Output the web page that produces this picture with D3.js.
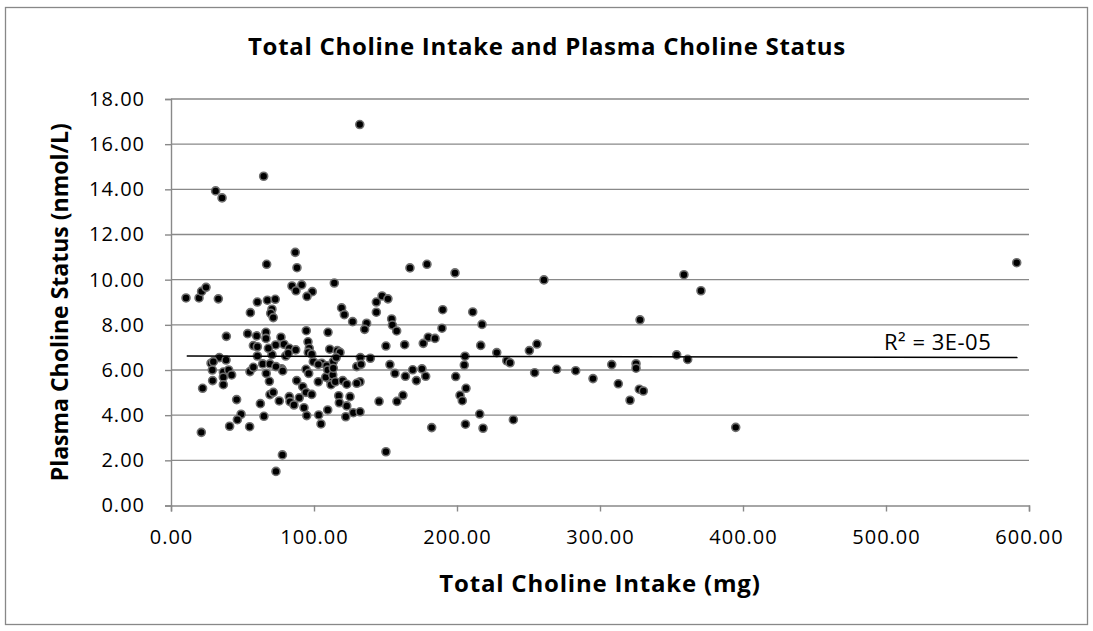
<!DOCTYPE html>
<html>
<head>
<meta charset="utf-8">
<script src="https://cdn.jsdelivr.net/npm/d3@7"></script>
<style>
  body { margin: 0; background: #fff; }
  text { font-family: "Open Sans", sans-serif; fill: #000; }
</style>
</head>
<body>
<svg id="chart" width="1093" height="631"></svg>
<script>
// intake (mg)
var intake = [
  132, 64.8, 31.2, 35.7,
  86.9, 66.9, 88.1, 114.2, 10.5, 19.6, 21.4, 24.5, 33.1,
  84.6, 87.4, 91.4, 98.8, 95.1, 60.4, 67.4, 72.9,
  55.5, 70.6, 69.7, 71.5, 119.3, 121.2,
  38.7, 53.6, 59.9, 66.4, 66.4, 76.9, 94.6, 95.8, 109.8,
  57.6, 60.4, 73.2, 79.0, 82.7, 87.2, 96.7, 111.0, 116.3, 118.2,
  60.4, 70.6, 80.2, 33.8, 38.5, 28.0, 99.5, 105.4, 64.1, 69.2,
  68.1, 29.6, 96.0, 98.4, 82.0, 103.0, 108.9, 113.5, 115.5, 77.4, 111.2,
  28.9, 36.6, 40.3, 42.4, 36.6, 29.1, 36.6, 22.1, 45.9, 49.0, 46.4, 41.0, 21.2, 55.0, 65.0, 62.5, 69.2, 71.5, 75.7, 77.9, 73.4,
  55.2, 57.6, 66.6, 68.8, 73.4, 78.1,
  82.7, 83.2, 86.0, 87.9, 89.7, 92.1, 94.4, 98.4, 93.0, 94.9, 103.3, 104.9, 109.6,
  94.4, 96.3, 103.0, 108.2, 109.6, 113.1, 111.9, 114.9, 120.1, 122.9, 117.3, 117.7, 122.9, 122.2,
  167.1, 179.0, 198.6, 127.0, 136.8, 135.4, 143.6, 147.6, 151.7, 143.6, 154.3, 154.8, 157.8, 190.0, 189.5, 211.0, 217.5,
  179.9, 184.6, 150.3, 163.4, 176.4, 216.6, 227.8, 234.8, 237.1, 250.6, 205.6, 205.1,
  132.4, 139.4, 129.9, 132.9, 153.1, 156.6, 163.9, 169.0, 171.6, 175.5, 178.1, 199.1,
  206.3, 202.1, 203.7, 215.9, 205.9, 218.2, 239.4, 182.3, 150.3, 145.5, 158.0, 162.2,
  132.2, 129.9, 125.2, 127.5, 132.2, 113.5,
  260.8, 358.7, 370.6, 328.0, 255.9, 254.3, 269.7, 283.0, 295.1, 308.2, 312.8, 321.0,
  325.2, 325.2, 327.5, 330.3, 353.6, 361.3, 394.9, 591.4
];
// plasma choline (nmol/L), same order
var plasma = [
  16.87, 14.58, 13.93, 13.62,
  11.21, 10.68, 10.53, 9.85, 9.19, 9.19, 9.48, 9.66, 9.15,
  9.72, 9.51, 9.77, 9.47, 9.26, 9.01, 9.09, 9.13,
  8.54, 8.69, 8.51, 8.32, 8.75, 8.45,
  7.49, 7.61, 7.51, 7.67, 7.40, 7.45, 7.74, 7.25, 7.67,
  7.08, 7.03, 7.11, 7.14, 6.96, 6.89, 6.96, 6.92, 6.86, 6.78,
  6.62, 6.68, 6.62, 6.55, 6.44, 6.30, 6.37, 6.30, 6.27, 6.27,
  6.96, 6.37, 6.78, 6.70, 6.74, 6.25, 6.19, 6.37, 6.55, 6.05, 5.56,
  6.00, 5.91, 6.00, 5.78, 5.68, 5.53, 5.35, 5.19, 4.69, 4.04, 3.80, 3.51, 3.24, 3.49, 3.95, 4.51, 4.91, 5.01, 4.63, 2.24, 1.51,
  5.93, 6.12, 5.85, 5.50, 6.15, 5.96,
  4.82, 4.60, 4.45, 5.53, 4.77, 5.26, 5.01, 4.92, 4.33, 3.98, 4.01, 3.61, 4.23,
  6.03, 5.85, 5.48, 5.68, 6.00, 5.78, 5.35, 5.48, 5.53, 5.37, 4.86, 4.55, 4.41, 3.93,
  10.52, 10.68, 10.30, 8.14, 8.07, 7.80, 9.01, 9.28, 9.15, 8.56, 8.26, 7.99, 7.73, 8.67, 7.85, 8.57, 8.02,
  7.45, 7.40, 7.06, 7.12, 7.18, 7.09, 6.77, 6.41, 6.32, 6.86, 6.61, 6.22,
  6.55, 6.52, 6.15, 6.25, 6.24, 5.85, 5.72, 6.01, 5.53, 6.05, 5.72, 5.71,
  5.19, 4.88, 4.64, 4.05, 3.60, 3.42, 3.80, 3.45, 2.38, 4.61, 4.61, 4.88,
  5.48, 5.41, 4.82, 4.11, 4.15, 6.08,
  9.99, 10.22, 9.51, 8.22, 7.15, 5.88, 6.03, 5.97, 5.62, 6.24, 5.39, 4.66,
  6.28, 6.08, 5.15, 5.07, 6.67, 6.47, 3.46, 10.75
];

// linear trendline ends, as drawn
var trendX = [11, 592];
var trendY = [6.62, 6.55];
var r2Label = "R² = 3E-05";

var xTicks = [0, 100, 200, 300, 400, 500, 600];
var yTicks = [0, 2, 4, 6, 8, 10, 12, 14, 16, 18];

var svg = d3.select("#chart");
var plotL = 171, plotR = 1029, plotT = 99, plotB = 505.5;

// chart frame
svg.append("rect")
  .attr("x", 5.5).attr("y", 7.5)
  .attr("width", 1082).attr("height", 617)
  .attr("fill", "#fff")
  .attr("stroke", "#888").attr("stroke-width", 1.3);

var x = d3.scaleLinear().domain([0, 600]).range([plotL, plotR]);
var y = d3.scaleLinear().domain([0, 18]).range([plotB, plotT]);

/* gridlines */
svg.append("g").selectAll("line")
  .data(yTicks.slice(1))
  .enter().append("line")
  .attr("x1", plotL).attr("x2", plotR)
  .attr("y1", function (d) { return y(d); })
  .attr("y2", function (d) { return y(d); })
  .attr("stroke", "#898989").attr("stroke-width", 1.4);

/* axes */
var xAxis = d3.axisBottom(x).tickValues(xTicks).tickSize(6).tickPadding(18)
  .tickFormat(function (d) { return d.toFixed(2); });
var yAxis = d3.axisLeft(y).tickValues(yTicks).tickSize(6).tickPadding(20)
  .tickFormat(function (d) { return d.toFixed(2); });

var gx = svg.append("g").attr("transform", "translate(0," + plotB + ")").call(xAxis);
var gy = svg.append("g").attr("transform", "translate(" + plotL + ",0)").call(yAxis);
[gx, gy].forEach(function (g) {
  g.select(".domain").attr("stroke", "#898989").attr("stroke-width", 1.4);
  g.selectAll(".tick line").attr("stroke", "#898989").attr("stroke-width", 1.4);
  g.selectAll(".tick text")
    .attr("font-family", "Open Sans").attr("font-size", 20)
    .attr("letter-spacing", 1).attr("fill", "#000");
});

/* points */
svg.append("g").selectAll("circle")
  .data(intake)
  .enter().append("circle")
  .attr("cx", function (d) { return x(d); })
  .attr("cy", function (d, i) { return y(plasma[i]); })
  .attr("r", 4)
  .attr("fill", "#000")
  .attr("stroke", "#6e6e6e").attr("stroke-width", 1.6);

/* trendline */
var trend = d3.line()
  .x(function (d) { return x(d); })
  .y(function (d, i) { return y(trendY[i]); });
svg.append("path")
  .datum(trendX)
  .attr("d", trend)
  .attr("fill", "none")
  .attr("stroke", "#000").attr("stroke-width", 1.5);

svg.append("text")
  .attr("x", 884).attr("y", 350)
  .attr("font-size", 22).attr("letter-spacing", 0.5)
  .text(r2Label);

/* titles */
svg.append("text")
  .attr("x", 547).attr("y", 55)
  .attr("text-anchor", "middle")
  .attr("font-size", 24).attr("font-weight", "bold").attr("letter-spacing", 0.7)
  .text("Total Choline Intake and Plasma Choline Status");

svg.append("text")
  .attr("x", (plotL + plotR) / 2).attr("y", 592)
  .attr("text-anchor", "middle")
  .attr("font-size", 24).attr("font-weight", "bold").attr("letter-spacing", 0.8)
  .text("Total Choline Intake (mg)");

svg.append("text")
  .attr("transform", "translate(68," + (plotT + plotB) / 2 + ") rotate(-90)")
  .attr("text-anchor", "middle")
  .attr("font-size", 23).attr("font-weight", "bold")
  .text("Plasma Choline Status (nmol/L)");
</script>
</body>
</html>
